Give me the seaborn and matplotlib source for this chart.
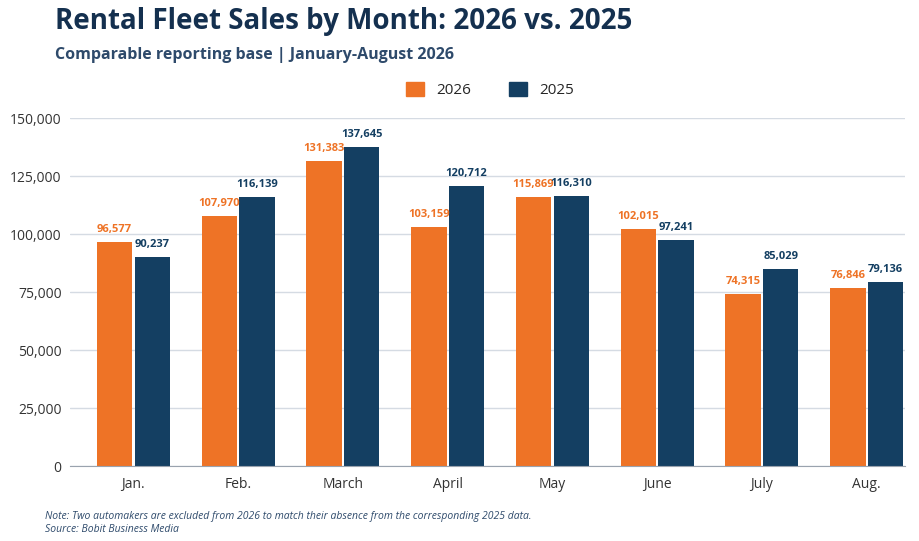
import matplotlib
matplotlib.use("Agg")
import matplotlib.pyplot as plt
import seaborn as sns
import pandas as pd

months = ["Jan.", "Feb.", "March", "April", "May", "June", "July", "Aug."]
sales_2026 = [96577, 107970, 131383, 103159, 115869, 102015, 74315, 76846]
sales_2025 = [90237, 116139, 137645, 120712, 116310, 97241, 85029, 79136]
series = ["2026", "2025"]
colors = {"2026": "#EE7326", "2025": "#143F62"}

df = pd.DataFrame({
    "Month": months * 2,
    "Sales": sales_2026 + sales_2025,
    "Year": ["2026"] * len(months) + ["2025"] * len(months),
})

sns.set_style("white")
plt.rcParams["font.family"] = ["Open Sans", "DejaVu Sans"]

fig = plt.figure(figsize=(9.2, 5.41), dpi=100)
ax = fig.add_axes([70/920, 1-466/541, (905-70)/920, (466-118)/541])
sns.barplot(data=df, x="Month", y="Sales", hue="Year", hue_order=series,
            palette=colors, saturation=1, width=0.72, gap=0.06, linewidth=0,
            ax=ax, legend=False)

ax.set_ylim(0, 150000)
ax.set_xlim(-0.605, 7.366)
ax.set_yticks(range(0, 150001, 25000))
ax.yaxis.set_major_formatter(matplotlib.ticker.FuncFormatter(lambda v, p: f"{int(v):,}"))
ax.grid(axis="y", color="#D5DBE3", linewidth=1)
ax.set_axisbelow(True)
for s in ["top", "right", "left"]:
    ax.spines[s].set_visible(False)
ax.spines["bottom"].set_color("#9AA3AE")
ax.tick_params(axis="both", length=0, labelsize=10, colors="#333333", pad=6)
ax.tick_params(axis="x", pad=8)
ax.set_xlabel("")
ax.set_ylabel("")

label_colors = ["#EE7326", "#143F62"]
for cont, c in zip(ax.containers, label_colors):
    ax.bar_label(cont, labels=[f"{v:,.0f}" for v in cont.datavalues], padding=5,
                 fontsize=8, fontweight="bold", color=c, clip_on=False)

from matplotlib.patches import Patch
handles = [Patch(color=colors[s], label=s) for s in series]
fig.legend(handles=handles, loc="center", bbox_to_anchor=(490/920, 1-90/541), ncol=2,
           frameon=False, fontsize=11, handlelength=1.2, handleheight=1.0, columnspacing=2.5)

fig.text(55/920, 1-22/541, "Rental Fleet Sales by Month: 2026 vs. 2025", fontsize=20,
         fontweight="bold", color="#14304F", va="center")
fig.text(55/920, 1-55/541, "Comparable reporting base | January-August 2026", fontsize=11.5,
         fontweight="bold", color="#2E4A6B", va="center")
fig.text(45/920, 1-517/541, "Note: Two automakers are excluded from 2026 to match their absence from the corresponding 2025 data.",
         fontsize=7.5, style="italic", color="#2E4A6B", va="center")
fig.text(45/920, 1-530/541, "Source: Bobit Business Media", fontsize=7.5, style="italic",
         color="#2E4A6B", va="center")

fig.savefig("out.png", dpi=100, facecolor="white")
